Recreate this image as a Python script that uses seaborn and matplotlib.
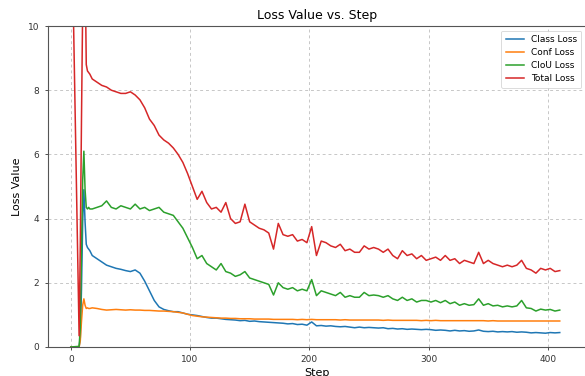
import matplotlib
matplotlib.use("Agg")
import matplotlib.pyplot as plt
import seaborn as sns
import pandas as pd

steps = [0, 7, 8, 9, 10, 11, 12, 13, 14, 15, 16] + list(range(18, 411, 4))

class_loss = [0.0, 0.0, 0.3, 1.8, 3.9, 4.9, 3.9, 3.2, 3.1, 3.05, 3.0,
              2.85, 2.75, 2.65, 2.55, 2.5, 2.45, 2.42, 2.38, 2.35, 2.4,
              2.3, 2.05, 1.75, 1.45, 1.25, 1.17, 1.13, 1.1, 1.1, 1.06,
              1.02, 1.0, 0.98, 0.95, 0.92, 0.9, 0.9, 0.88, 0.86, 0.85,
              0.84, 0.82, 0.83, 0.8, 0.81, 0.79, 0.78, 0.77, 0.76, 0.75,
              0.74, 0.72, 0.73, 0.7, 0.71, 0.68, 0.78, 0.66, 0.67, 0.65,
              0.66, 0.64, 0.63, 0.64, 0.62, 0.6, 0.62, 0.6, 0.61, 0.6,
              0.59, 0.6, 0.57, 0.58, 0.56, 0.57, 0.55, 0.56, 0.55, 0.54,
              0.55, 0.54, 0.52, 0.53, 0.52, 0.5, 0.52, 0.5, 0.51, 0.49,
              0.5, 0.53, 0.49, 0.48, 0.49, 0.47, 0.48, 0.47, 0.48, 0.46,
              0.47, 0.46, 0.44, 0.45, 0.44, 0.43, 0.45, 0.44, 0.45]

conf_loss = [0.0, 0.0, 0.2, 0.8, 1.3, 1.5, 1.3, 1.2, 1.22, 1.2, 1.2,
             1.22, 1.2, 1.17, 1.15, 1.16, 1.17, 1.16, 1.15, 1.16, 1.15,
             1.15, 1.14, 1.14, 1.13, 1.12, 1.12, 1.11, 1.1, 1.08, 1.06,
             1.02, 0.98, 0.96, 0.94, 0.93, 0.92, 0.91, 0.9, 0.9, 0.89,
             0.89, 0.88, 0.88, 0.88, 0.87, 0.87, 0.87, 0.87, 0.86, 0.86,
             0.86, 0.86, 0.86, 0.85, 0.86, 0.85, 0.86, 0.85, 0.85, 0.85,
             0.85, 0.85, 0.84, 0.85, 0.84, 0.84, 0.84, 0.84, 0.84, 0.84,
             0.84, 0.83, 0.84, 0.83, 0.83, 0.83, 0.83, 0.83, 0.83, 0.82,
             0.83, 0.82, 0.83, 0.82, 0.82, 0.82, 0.82, 0.82, 0.82, 0.82,
             0.82, 0.82, 0.82, 0.81, 0.82, 0.81, 0.81, 0.81, 0.81, 0.81,
             0.81, 0.81, 0.81, 0.81, 0.81, 0.81, 0.81, 0.81, 0.81]

ciou_loss = [0.0, 0.02, 0.6, 3.0, 5.2, 6.1, 4.9, 4.35, 4.3, 4.35, 4.3,
             4.3, 4.35, 4.4, 4.55, 4.35, 4.3, 4.4, 4.35, 4.3, 4.45,
             4.3, 4.35, 4.25, 4.3, 4.35, 4.2, 4.15, 4.1, 3.9, 3.7,
             3.4, 3.1, 2.75, 2.85, 2.6, 2.5, 2.4, 2.6, 2.35, 2.3,
             2.2, 2.25, 2.35, 2.15, 2.1, 2.05, 2.0, 1.95, 1.62, 2.0,
             1.85, 1.8, 1.85, 1.75, 1.8, 1.75, 2.1, 1.6, 1.75, 1.7,
             1.65, 1.6, 1.7, 1.55, 1.6, 1.55, 1.55, 1.7, 1.6, 1.62,
             1.6, 1.55, 1.6, 1.5, 1.45, 1.55, 1.45, 1.5, 1.4, 1.45,
             1.45, 1.4, 1.45, 1.38, 1.45, 1.35, 1.4, 1.3, 1.35, 1.3,
             1.32, 1.5, 1.3, 1.35, 1.28, 1.3, 1.25, 1.28, 1.25, 1.28,
             1.45, 1.22, 1.2, 1.12, 1.18, 1.15, 1.17, 1.12, 1.15]

total_loss = [15.0, 0.35, 3.2, 7.1, 10.6, 15.5, 12.0, 8.8, 8.6, 8.55, 8.5,
              8.35, 8.25, 8.15, 8.1, 8.0, 7.95, 7.9, 7.9, 7.95, 7.85,
              7.7, 7.45, 7.1, 6.9, 6.6, 6.45, 6.35, 6.2, 6.0, 5.75,
              5.4, 5.0, 4.6, 4.85, 4.5, 4.3, 4.35, 4.2, 4.5, 4.0,
              3.85, 3.9, 4.45, 3.9, 3.8, 3.7, 3.65, 3.55, 3.05, 3.85,
              3.5, 3.45, 3.5, 3.3, 3.35, 3.25, 3.75, 2.85, 3.3, 3.25,
              3.15, 3.1, 3.2, 3.0, 3.05, 2.95, 2.95, 3.15, 3.05, 3.1,
              3.05, 2.95, 3.05, 2.85, 2.75, 3.0, 2.85, 2.9, 2.75, 2.85,
              2.7, 2.75, 2.8, 2.7, 2.85, 2.7, 2.75, 2.6, 2.7, 2.65,
              2.6, 2.95, 2.6, 2.7, 2.6, 2.55, 2.5, 2.55, 2.5, 2.55,
              2.7, 2.45, 2.4, 2.3, 2.45, 2.4, 2.45, 2.35, 2.38]

series_names = ["Class Loss", "Conf Loss", "CIoU Loss", "Total Loss"]
series_values = [class_loss, conf_loss, ciou_loss, total_loss]

rows = []
for name, vals in zip(series_names, series_values):
    for s, v in zip(steps, vals):
        rows.append({"Step": s, "Loss Value": v, "Loss": name})
df = pd.DataFrame(rows)

fig = plt.figure(figsize=(5.85, 3.76), dpi=100)
ax = fig.add_axes([47.5 / 585, 29 / 376, 538.5 / 585, 321 / 376])

palette = ["#1f77b4", "#ff7f0e", "#2ca02c", "#d62728"]
sns.lineplot(data=df, x="Step", y="Loss Value", hue="Loss", hue_order=series_names,
             palette=palette, linewidth=1.1, ax=ax)

ax.set_xlim(-19.5, 432)
ax.set_ylim(0, 10)
ax.set_xticks([0, 100, 200, 300, 400])
ax.set_yticks([0, 2, 4, 6, 8, 10])
ax.grid(True, linestyle=(0, (3, 3)), color="#b8b8b8", linewidth=0.7, alpha=0.8)
ax.tick_params(labelsize=6.5, length=2.5, width=0.6, colors="#333333")
for sp in ax.spines.values():
    sp.set_color("#555555")
    sp.set_linewidth(0.8)
ax.set_title("Loss Value vs. Step", fontsize=9, pad=5)
ax.set_xlabel("Step", fontsize=8, labelpad=3)
ax.set_ylabel("Loss Value", fontsize=8, labelpad=4)
leg = ax.legend(loc="upper right", fontsize=6.5, frameon=True, handlelength=2.0,
                borderpad=0.5, labelspacing=0.45)
leg.get_frame().set_linewidth(0.6)

fig.savefig("out.png", dpi=100)
